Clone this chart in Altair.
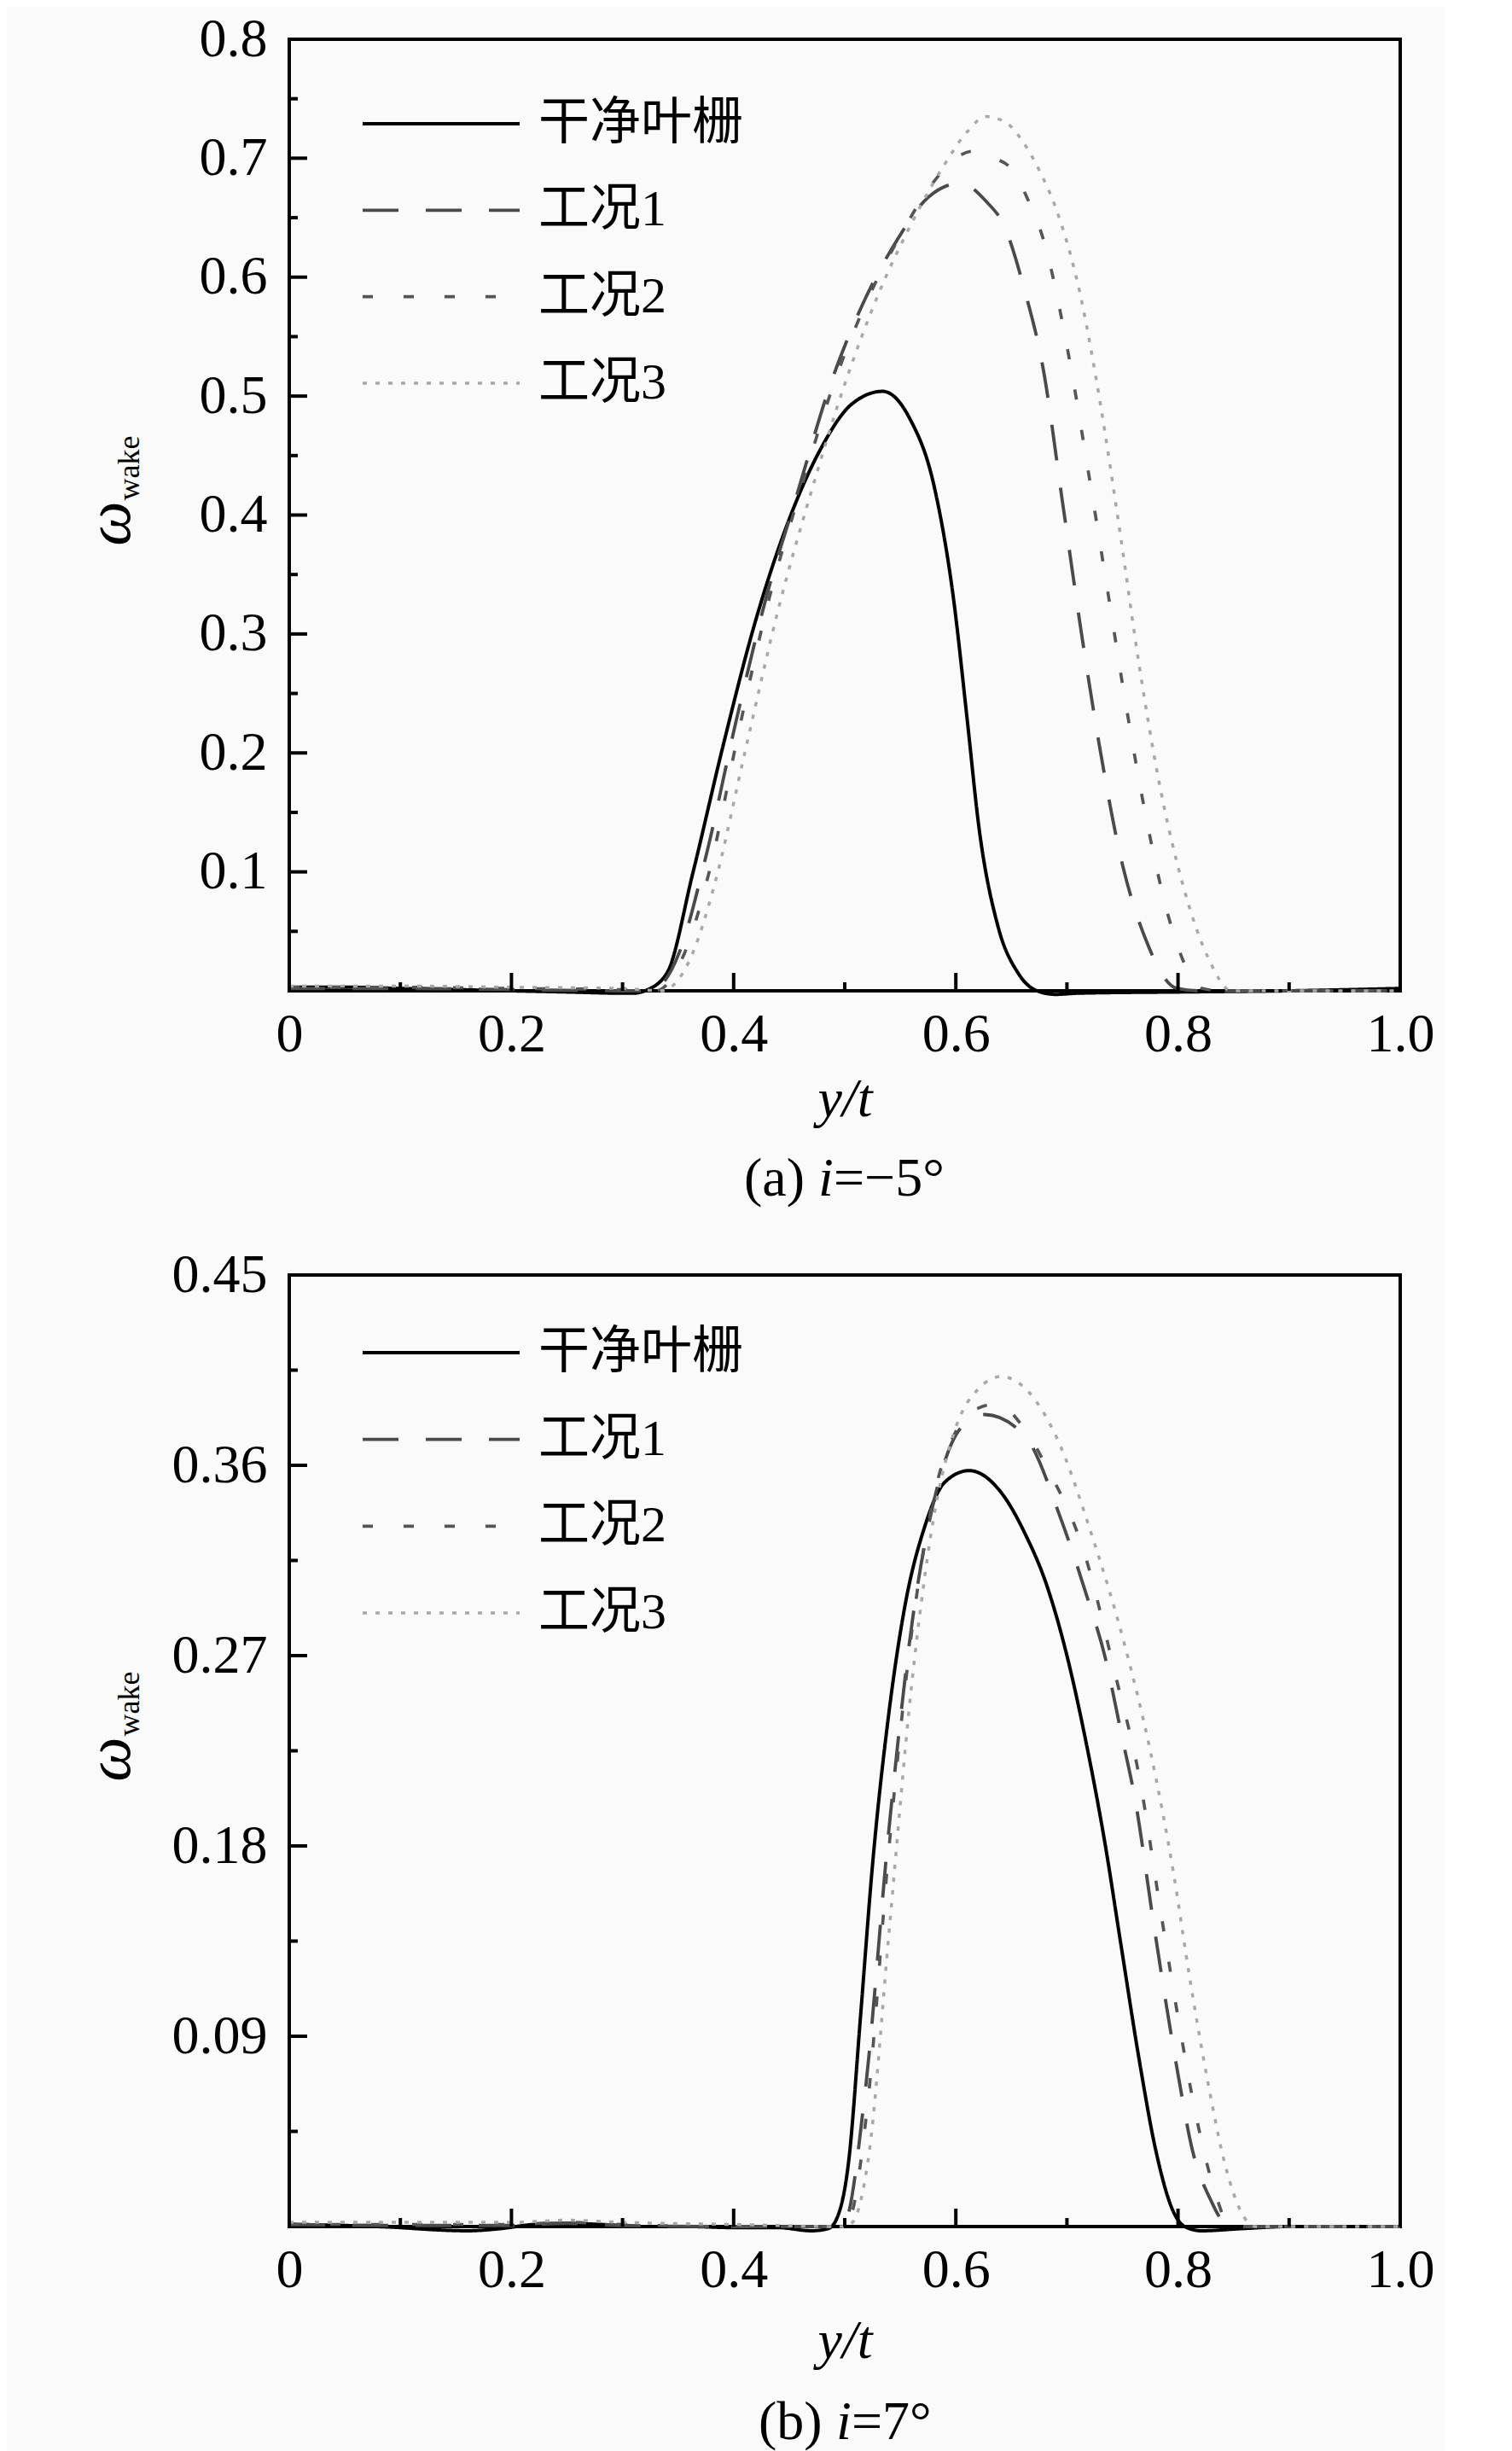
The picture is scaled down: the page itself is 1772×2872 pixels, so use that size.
import altair as alt
import pandas as pd

SERIES = ["干净叶栅", "工况1", "工况2", "工况3"]
COLORS = ["#000000", "#4a4a4a", "#555555", "#a8a8a8"]
DASHES = [[1, 0], [42, 32], [12, 36], [5, 10]]
WIDTHS = [4, 3.5, 3.5, 3.2]

X_MAJOR = [0, 0.2, 0.4, 0.6, 0.8, 1.0]
X_MINOR = [0.1, 0.3, 0.5, 0.7, 0.9]

# ---------- panel (a) i = -5 deg ----------
A_Y_MAJOR = [0.1, 0.2, 0.3, 0.4, 0.5, 0.6, 0.7]
A_Y_MINOR = [0.05, 0.15, 0.25, 0.35, 0.45, 0.55, 0.65, 0.75]
A_Y_LABELS = [0.1, 0.2, 0.3, 0.4, 0.5, 0.6, 0.7, 0.8]

a_clean_x = [0, 0.05, 0.1, 0.15, 0.2, 0.25, 0.3, 0.31, 0.32, 0.34, 0.363, 0.391, 0.42, 0.449, 0.478,
             0.506, 0.534, 0.558, 0.581, 0.598, 0.61, 0.621, 0.638, 0.656, 0.673, 0.69, 0.71, 0.8, 0.9, 1.0]
a_clean_y = [0.003, 0.003, 0.002, 0.001, 0.0, -0.001, -0.002, -0.002, 0.0, 0.015, 0.098, 0.208, 0.312, 0.394, 0.455,
             0.493, 0.504, 0.482, 0.422, 0.329, 0.230, 0.136, 0.054, 0.015, 0.0, -0.003, -0.002, -0.001, 0.0, 0.002]

a_c1_x = [0, 0.1, 0.2, 0.3, 0.325, 0.351, 0.374, 0.403, 0.432, 0.455, 0.489, 0.518, 0.547, 0.575, 0.604,
          0.627, 0.644, 0.661, 0.679, 0.696, 0.713, 0.730, 0.748, 0.771, 0.799, 0.82, 0.9, 1.0]
a_c1_y = [0.002, 0.002, 0.001, 0.0, 0.0, 0.032, 0.109, 0.23, 0.34, 0.411, 0.515, 0.581, 0.631, 0.667, 0.679,
          0.664, 0.642, 0.592, 0.521, 0.411, 0.301, 0.202, 0.114, 0.043, 0.002, 0.0, 0.0, 0.0]

a_c2_x = [0, 0.1, 0.2, 0.3, 0.33, 0.355, 0.378, 0.405, 0.432, 0.46, 0.49, 0.52, 0.55, 0.58, 0.6, 0.616,
          0.635, 0.65, 0.665, 0.679, 0.702, 0.719, 0.736, 0.753, 0.771, 0.794, 0.822, 0.84, 0.9, 1.0]
a_c2_y = [0.003, 0.003, 0.002, 0.001, 0.0, 0.03, 0.1, 0.22, 0.33, 0.42, 0.51, 0.58, 0.635, 0.68, 0.70, 0.706,
          0.70, 0.691, 0.665, 0.631, 0.532, 0.438, 0.34, 0.241, 0.147, 0.054, 0.002, 0.0, 0.0, 0.0]

a_c3_x = [0, 0.1, 0.2, 0.3, 0.335, 0.36, 0.383, 0.41, 0.44, 0.47, 0.5, 0.53, 0.56, 0.59, 0.61, 0.627,
          0.645, 0.661, 0.675, 0.69, 0.713, 0.730, 0.748, 0.765, 0.782, 0.805, 0.828, 0.848, 0.9, 1.0]
a_c3_y = [0.004, 0.004, 0.003, 0.002, 0.0, 0.025, 0.09, 0.2, 0.32, 0.42, 0.51, 0.585, 0.645, 0.695, 0.722, 0.735,
          0.73, 0.713, 0.69, 0.658, 0.581, 0.494, 0.384, 0.274, 0.18, 0.087, 0.026, 0.0, 0.0, 0.0]

# ---------- panel (b) i = 7 deg ----------
B_Y_MAJOR = [0.09, 0.18, 0.27, 0.36]
B_Y_MINOR = [0.045, 0.135, 0.225, 0.315, 0.405]
B_Y_LABELS = [0.09, 0.18, 0.27, 0.36, 0.45]

b_clean_x = [0, 0.05, 0.1, 0.13, 0.16, 0.19, 0.22, 0.25, 0.28, 0.32, 0.36, 0.4, 0.44, 0.47, 0.485, 0.493,
             0.504, 0.514, 0.525, 0.540, 0.554, 0.572, 0.59, 0.612, 0.641, 0.662, 0.682, 0.700, 0.718,
             0.734, 0.749, 0.765, 0.780, 0.795, 0.806, 0.821, 0.857, 0.9, 1.0]
b_clean_y = [0.001, 0.0005, -0.0005, -0.0015, -0.002, -0.001, 0.001, 0.0015, 0.001, 0.0, 0.0, -0.0005, -0.0005,
             -0.002, -0.001, 0.004, 0.033, 0.098, 0.171, 0.244, 0.293, 0.331, 0.352, 0.3575, 0.347, 0.328,
             0.303, 0.270, 0.227, 0.182, 0.132, 0.079, 0.036, 0.008, 0.0, -0.002, -0.001, 0.0, 0.0]

b_c1_x = [0, 0.1, 0.2, 0.25, 0.3, 0.4, 0.49, 0.5, 0.518, 0.54, 0.561, 0.583, 0.605, 0.626, 0.662, 0.695,
          0.718, 0.734, 0.749, 0.762, 0.777, 0.790, 0.800, 0.813, 0.829, 0.842, 0.86, 0.9, 1.0]
b_c1_y = [0.001, 0.0005, 0.0005, 0.0015, 0.0005, 0.0, 0.0, 0.002, 0.062, 0.189, 0.287, 0.349, 0.378, 0.384,
          0.374, 0.334, 0.298, 0.270, 0.233, 0.2, 0.147, 0.103, 0.072, 0.036, 0.013, 0.002, 0.0, 0.0, 0.0]

b_c2_x = [0, 0.1, 0.2, 0.25, 0.3, 0.4, 0.495, 0.503, 0.52, 0.54, 0.56, 0.58, 0.60, 0.62, 0.637, 0.662,
          0.682, 0.716, 0.744, 0.765, 0.785, 0.800, 0.816, 0.834, 0.847, 0.86, 0.9, 1.0]
b_c2_y = [0.001, 0.001, 0.001, 0.002, 0.001, 0.0, 0.0, 0.002, 0.055, 0.18, 0.28, 0.345, 0.376, 0.387, 0.389,
          0.377, 0.359, 0.318, 0.260, 0.213, 0.147, 0.099, 0.053, 0.015, 0.0, 0.0, 0.0, 0.0]

b_c3_x = [0, 0.1, 0.2, 0.25, 0.3, 0.4, 0.5, 0.507, 0.522, 0.54, 0.56, 0.58, 0.60, 0.62, 0.641, 0.665,
          0.690, 0.723, 0.752, 0.775, 0.796, 0.811, 0.827, 0.842, 0.860, 0.87, 0.9, 1.0]
b_c3_y = [0.002, 0.002, 0.002, 0.003, 0.002, 0.001, 0.0, 0.002, 0.035, 0.14, 0.255, 0.335, 0.378, 0.396,
          0.402, 0.395, 0.374, 0.326, 0.275, 0.225, 0.167, 0.116, 0.068, 0.030, 0.004, 0.0, 0.0, 0.0]

CAPTION_A = ["(a) ", "i", "=\u22125\u00b0"]
CAPTION_B = ["(b) ", "i", "=7\u00b0"]
Y_TITLE = ["\u03c9", "wake"]

W, H = 1302, 1115
SERIF = "Liberation Serif"
MIXED = "Liberation Serif, Noto Sans CJK SC"


def frame(xs, ys, names):
    rows = []
    for s, x, y in zip(names, xs, ys):
        for a, b in zip(x, y):
            rows.append({"series": s, "x": a, "v": b})
    return pd.DataFrame(rows)


color_enc = alt.Color("series:N", scale=alt.Scale(domain=SERIES, range=COLORS), legend=None)
dash_enc = alt.StrokeDash("series:N", scale=alt.Scale(domain=SERIES, range=DASHES), legend=None)
width_enc = alt.StrokeWidth("series:N", scale=alt.Scale(domain=SERIES, range=WIDTHS), legend=None)


def panel(df, y_max, y_labels, y_major, y_minor, y_fmt, caption, cap_x, title_y, cap_y, leg_range):
    xs = alt.Scale(domain=[0, 1], nice=False, zero=False)
    ys = alt.Scale(domain=[0, y_max], nice=False, zero=False)

    lines = alt.Chart(df).mark_line(interpolate="monotone", clip=False).encode(
        x=alt.X("x:Q", scale=xs, axis=alt.Axis(
            values=X_MAJOR, labelExpr="datum.value == 0 ? '0' : format(datum.value, '.1f')",
            title="y/t", labelPadding=70, labelBaseline="alphabetic", labelFlush=False,
            labelOverlap=False, titleY=title_y, titleBaseline="alphabetic", titleFontStyle="italic")),
        y=alt.Y("v:Q", scale=ys, axis=alt.Axis(
            values=y_labels, format=y_fmt, title=None, labelPadding=26, labelOverlap=False,
            labelFlush=False)),
        color=color_enc, strokeDash=dash_enc, strokeWidth=width_enc,
        order=alt.Order("x:Q"),
    )

    def yticks(vals, length):
        return alt.Chart(pd.DataFrame({"v": vals})).mark_rule(color="black", strokeWidth=4).encode(
            y=alt.Y("v:Q", scale=ys), x=alt.value(0), x2=alt.value(length))

    def xticks(vals, length):
        return alt.Chart(pd.DataFrame({"x": vals})).mark_rule(color="black", strokeWidth=4).encode(
            x=alt.X("x:Q", scale=xs), y=alt.value(H), y2=alt.value(H - length))

    ytitle_w = alt.Chart(pd.DataFrame({"t": [Y_TITLE[0]]})).mark_text(
        font=SERIF, fontSize=74, fontStyle="italic", angle=270, align="center",
        baseline="alphabetic", color="black").encode(
        text="t:N", x=alt.value(-187), y=alt.value(H / 2 + 10))
    ytitle_s = alt.Chart(pd.DataFrame({"t": [Y_TITLE[1]]})).mark_text(
        font=SERIF, fontSize=36, angle=270, align="center",
        baseline="alphabetic", color="black").encode(
        text="t:N", x=alt.value(-176), y=alt.value(H / 2 - 55))

    cap_layers = []
    for txt, off, style in zip(caption, cap_x, ["normal", "italic", "normal"]):
        cap_layers.append(
            alt.Chart(pd.DataFrame({"t": [txt]})).mark_text(
                font=SERIF, fontSize=64, fontStyle=style, align="left",
                baseline="alphabetic", color="black").encode(
                text="t:N", x=alt.value(off), y=alt.value(H + cap_y)))

    inner = alt.layer(lines, yticks(y_major, 21), yticks(y_minor, 10),
                      xticks(X_MAJOR, 21), xticks(X_MINOR, 10),
                      ytitle_w, ytitle_s, *cap_layers)

    leg_df = pd.DataFrame({"series": SERIES})
    leg_y = alt.Y("series:N", scale=alt.Scale(type="point", domain=SERIES, range=leg_range, padding=0),
                  axis=None)
    leg_rule = alt.Chart(leg_df).mark_rule(strokeCap="butt").encode(
        y=leg_y, x=alt.value(86), x2=alt.value(270),
        color=color_enc, strokeDash=dash_enc, strokeWidth=width_enc)
    leg_text = alt.Chart(leg_df).mark_text(
        font=MIXED, fontSize=60, align="left", baseline="middle", color="black").encode(
        y=leg_y, x=alt.value(292), text="series:N")

    return alt.layer(inner, leg_rule, leg_text).resolve_scale(y="independent").properties(
        width=W, height=H)


df_a = frame([a_clean_x, a_c1_x, a_c2_x, a_c3_x], [a_clean_y, a_c1_y, a_c2_y, a_c3_y], SERIES)
df_b = frame([b_clean_x, b_c1_x, b_c2_x, b_c3_x], [b_clean_y, b_c1_y, b_c2_y, b_c3_y], SERIES)

top = panel(df_a, 0.8, A_Y_LABELS, A_Y_MAJOR, A_Y_MINOR, ".1f", CAPTION_A, [533, 620, 638],
            146, 240, [99, 403])
bottom = panel(df_b, 0.45, B_Y_LABELS, B_Y_MAJOR, B_Y_MINOR, ".2f", CAPTION_B, [550, 641, 659],
               153, 249, [91, 396])

chart = alt.vconcat(top, bottom, spacing=44).properties(
    padding={"left": 83, "top": 4, "right": 10, "bottom": 0},
    background="#fafafa",
).configure_view(
    stroke="black", strokeWidth=4
).configure_axis(
    domain=False, ticks=False, tickSize=0, grid=False,
    labelFont=SERIF, labelFontSize=64, labelColor="black",
    titleFont=SERIF, titleFontSize=64, titleFontWeight="normal", titleColor="black",
)

chart.save("out.html", embed_options={"renderer": "svg", "actions": False})
